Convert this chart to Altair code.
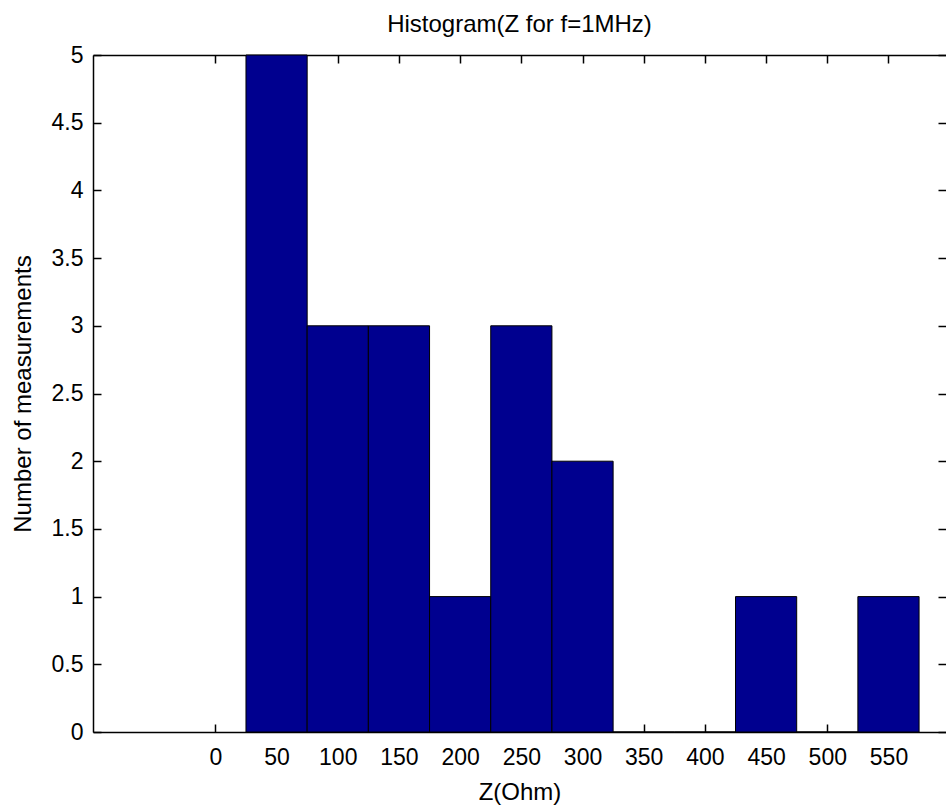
import altair as alt
import pandas as pd

# histogram bins (centers) and counts
bin_centers = [50, 100, 150, 200, 250, 300, 350, 400, 450, 500, 550]
counts = [5, 3, 3, 1, 3, 2, 0, 0, 1, 0, 1]
bin_width = 50

x_ticks = [0, 50, 100, 150, 200, 250, 300, 350, 400, 450, 500, 550]
y_ticks = [0, 0.5, 1, 1.5, 2, 2.5, 3, 3.5, 4, 4.5, 5]

df = pd.DataFrame({
    "center": bin_centers,
    "count": counts,
})
df["start"] = df["center"] - bin_width / 2
df["end"] = df["center"] + bin_width / 2
df["base"] = 0

W = 853
H = 677
FONT = "Liberation Sans"
FS = 23
TFS = 24

xs = alt.Scale(domain=[-100, 597], nice=False, zero=False)
ys = alt.Scale(domain=[0, 5], nice=False)

base = alt.Chart(df)

# main bars with labelled bottom / left axes
bars = base.mark_bar(color="#00008F", stroke="black", strokeWidth=1, opacity=1).encode(
    x=alt.X("start:Q", scale=xs,
            axis=alt.Axis(orient="bottom", values=x_ticks, ticks=False, grid=False,
                          domainColor="black", domainWidth=1.5,
                          labelFont=FONT, labelFontSize=FS, labelColor="black",
                          labelPadding=14, labelFlush=False,
                          title="Z(Ohm)", titleFont=FONT, titleFontSize=TFS,
                          titleFontWeight="normal", titleColor="black", titlePadding=11)),
    x2="end:Q",
    y=alt.Y("count:Q", scale=ys,
            axis=alt.Axis(orient="left", values=y_ticks, ticks=False, grid=False,
                          format="~g",
                          domainColor="black", domainWidth=1.5,
                          labelFont=FONT, labelFontSize=FS, labelColor="black",
                          labelPadding=10, labelFlush=False,
                          title="Number of measurements", titleFont=FONT, titleFontSize=TFS,
                          titleFontWeight="normal", titleColor="black", titlePadding=16)),
    y2="base:Q",
)

# inward ticks on bottom and left edges
inner1 = base.mark_bar(opacity=0).encode(
    x=alt.X("start:Q", scale=xs,
            axis=alt.Axis(orient="top", offset=-H, values=x_ticks, labels=False, domain=False,
                          ticks=True, tickSize=8, tickColor="black", tickWidth=1.5,
                          grid=False, title=None)),
    x2="end:Q",
    y=alt.Y("count:Q", scale=ys,
            axis=alt.Axis(orient="right", offset=-W, values=y_ticks, labels=False, domain=False,
                          ticks=True, tickSize=8, tickColor="black", tickWidth=1.5,
                          grid=False, title=None)),
    y2="base:Q",
)

# box: top line with inward ticks, right edge inward ticks
inner2 = base.mark_bar(opacity=0).encode(
    x=alt.X("start:Q", scale=xs,
            axis=alt.Axis(orient="bottom", offset=-H, values=x_ticks, labels=False, domain=True,
                          domainColor="black", domainWidth=1.5,
                          ticks=True, tickSize=8, tickColor="black", tickWidth=1.5,
                          grid=False, title=None)),
    x2="end:Q",
    y=alt.Y("count:Q", scale=ys,
            axis=alt.Axis(orient="left", offset=-W, values=y_ticks, labels=False, domain=False,
                          ticks=True, tickSize=8, tickColor="black", tickWidth=1.5,
                          grid=False, title=None)),
    y2="base:Q",
)

chart = alt.layer(inner1, inner2, bars).resolve_scale(
    x="independent", y="independent"
).properties(
    width=W,
    height=H,
    title=alt.TitleParams("Histogram(Z for f=1MHz)", font=FONT, fontSize=TFS,
                          fontWeight="normal", color="black", anchor="middle", offset=7),
    autosize=alt.AutoSizeParams(type="none"),
    padding={"left": 93, "top": 55, "right": 0, "bottom": 78},
    background="white",
).configure_view(strokeWidth=0)

chart.save("out.html", embed_options={"renderer": "svg", "actions": False})
